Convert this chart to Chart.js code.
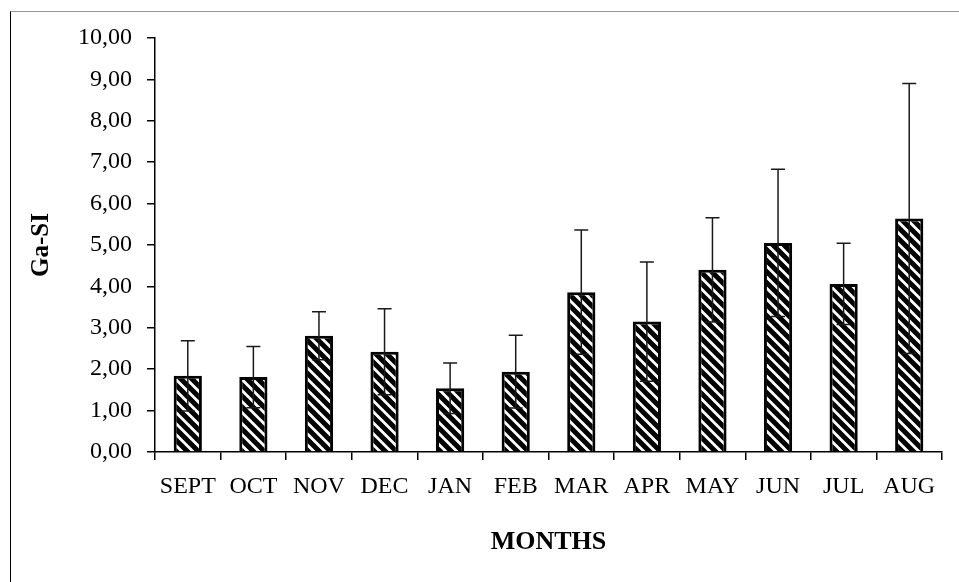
<!DOCTYPE html>
<html>
<head>
<meta charset="utf-8">
<script src="https://cdn.jsdelivr.net/npm/chart.js@4/dist/chart.umd.min.js"></script>
<style>
  html, body { margin: 0; padding: 0; background: #fff; }
  #wrap { position: relative; width: 959px; height: 582px; }
  #frame { position: absolute; left: 10px; top: 11px; right: 0; bottom: 0;
           border-left: 1px solid #000; border-top: 1px solid #999; pointer-events: none; }
  canvas { position: absolute; left: 0; top: 0; }
</style>
</head>
<body>
<div id="wrap">
  <canvas id="chart-gasi" width="959" height="582"></canvas>
  <div id="frame"></div>
</div>
<script>
const months = ['SEPT', 'OCT', 'NOV', 'DEC', 'JAN', 'FEB', 'MAR', 'APR', 'MAY', 'JUN', 'JUL', 'AUG'];
const gasiMean = [1.84, 1.81, 2.81, 2.42, 1.54, 1.94, 3.86, 3.15, 4.40, 5.05, 4.06, 5.64];
const gasiSd = [0.85, 0.74, 0.58, 1.04, 0.61, 0.88, 1.50, 1.44, 1.26, 1.78, 0.98, 3.26];

// diagonal hatch fill "\\\"
function hatch() {
    const s = 11;
    const c = document.createElement('canvas');
    c.width = s; c.height = s;
    const g = c.getContext('2d');
    g.fillStyle = '#fff';
    g.fillRect(0, 0, s, s);
    g.strokeStyle = '#000';
    g.lineWidth = 5;
    g.beginPath();
    g.moveTo(-2, -2); g.lineTo(s + 2, s + 2);
    g.moveTo(-2, s - 2); g.lineTo(2, s + 2);
    g.moveTo(s - 2, -2); g.lineTo(s + 2, 2);
    g.stroke();
    return g.createPattern(c, 'repeat');
}

const errorBars = {
    id: 'errorBars',
    afterDatasetsDraw(chart) {
        const ctx = chart.ctx;
        const y = chart.scales.y;
        const meta = chart.getDatasetMeta(0);
        ctx.save();
        ctx.strokeStyle = '#1a1a1a';
        ctx.lineWidth = 1.5;
        meta.data.forEach((bar, i) => {
            const x = bar.x;
            const hi = y.getPixelForValue(gasiMean[i] + gasiSd[i]);
            const lo = y.getPixelForValue(gasiMean[i] - gasiSd[i]);
            ctx.beginPath();
            ctx.moveTo(x, hi); ctx.lineTo(x, lo);
            ctx.moveTo(x - 7, hi); ctx.lineTo(x + 7, hi);
            ctx.moveTo(x - 7, lo); ctx.lineTo(x + 7, lo);
            ctx.stroke();
        });
        ctx.restore();
    }
};

const data = {
    labels: months,
    datasets: [{
        label: 'Ga-SI',
        data: gasiMean,
        backgroundColor: hatch(),
        borderColor: '#000',
        borderWidth: 3,
        barPercentage: 0.43,
        categoryPercentage: 1
    }]
};

const config = {
    type: 'bar',
    data: data,
    plugins: [errorBars],
    options: {
        responsive: false,
        animation: false,
        layout: { padding: { top: 38, right: 17, left: 0, bottom: 0 } },
        plugins: {
            legend: { display: false },
            tooltip: { enabled: false }
        },
        scales: {
            x: {
                afterFit: (s) => { s.height = 130; },
                grid: { display: true, drawOnChartArea: false, tickLength: 8, color: '#000', lineWidth: 1.5, offset: true },
                border: { display: true, color: '#000', width: 1.5 },
                ticks: { color: '#000', padding: 12, maxRotation: 0, autoSkip: false,
                         font: { family: '"Liberation Serif", "Times New Roman", serif', size: 24 } },
                title: { display: true, text: 'MONTHS', color: '#000', padding: { top: 0, bottom: 24 },
                         font: { family: '"Liberation Serif", "Times New Roman", serif', size: 26, weight: 'bold' } }
            },
            y: {
                min: 0,
                max: 10,
                afterFit: (s) => { s.width = 155; },
                grid: { display: true, drawOnChartArea: false, tickLength: 8, color: '#000', lineWidth: 1.5 },
                border: { display: true, color: '#000', width: 1.5 },
                ticks: { stepSize: 1, color: '#000', padding: 15,
                         font: { family: '"Liberation Serif", "Times New Roman", serif', size: 24 },
                         callback: (v) => v.toFixed(2).replace('.', ',') },
                title: { display: true, text: 'Ga-SI', color: '#000', padding: { top: 27, bottom: 0 },
                         font: { family: '"Liberation Serif", "Times New Roman", serif', size: 25, weight: 'bold' } }
            }
        }
    }
};

const myChart = new Chart(
    document.getElementById('chart-gasi'),
    config
);
</script>
</body>
</html>
